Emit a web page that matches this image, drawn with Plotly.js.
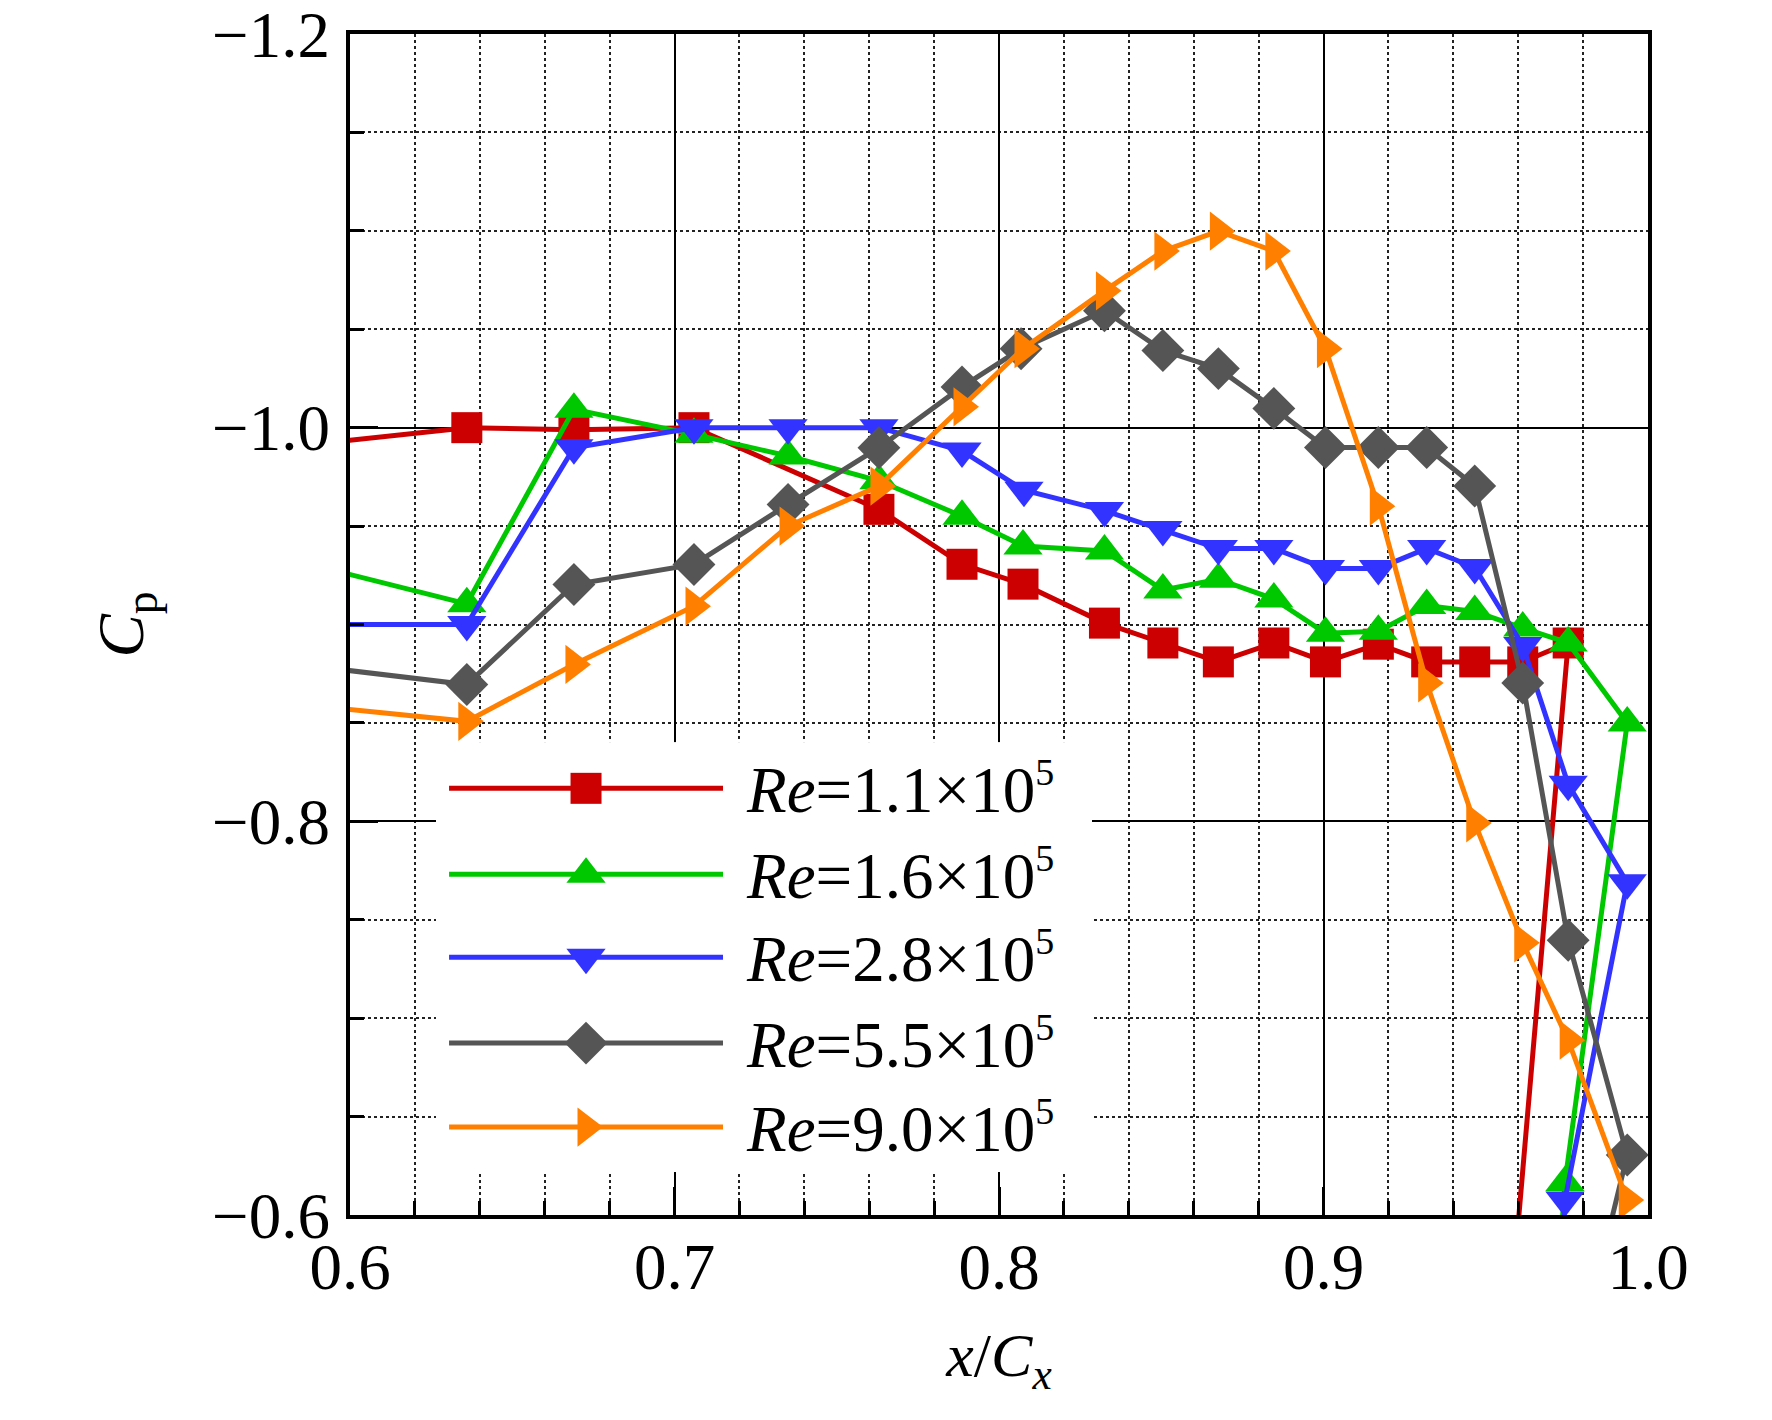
<!DOCTYPE html>
<html>
<head>
<meta charset="utf-8">
<script src="https://cdn.plot.ly/plotly-3.0.1.min.js"></script>
<style>
  body { margin: 0; background: #fff; }
  #chart { width: 1772px; height: 1420px; }
</style>
</head>
<body>
<div id="chart"></div>
<script>
// pressure taps along the surface (first point lies left of the window, the
// last ones wrap round the trailing edge below Cp = -0.6)
const xRe11 = [0.58, 0.636, 0.669, 0.706, 0.763, 0.7886, 0.8074, 0.8325, 0.8505, 0.8676, 0.8847, 0.9006, 0.9169, 0.9318, 0.9466, 0.9614, 0.9754, 0.955];
const cpRe11 = [-0.990, -1.0, -0.999, -1.0, -0.9585, -0.9306, -0.9205, -0.9007, -0.8906, -0.881, -0.8906, -0.881, -0.89, -0.881, -0.881, -0.881, -0.8906, -0.50];

const xRe16 = [0.58, 0.636, 0.669, 0.706, 0.735, 0.763, 0.7886, 0.8074, 0.8325, 0.8505, 0.8676, 0.8847, 0.9006, 0.9169, 0.9318, 0.9466, 0.9614, 0.9754, 0.9936, 0.9744, 0.9695];
const cpRe16 = [-0.9337, -0.9105, -1.0093, -0.9966, -0.9856, -0.973, -0.955, -0.9399, -0.9374, -0.9175, -0.923, -0.913, -0.8956, -0.8966, -0.9096, -0.9066, -0.8982, -0.8906, -0.85, -0.6165, -0.50];

const xRe28 = [0.58, 0.636, 0.669, 0.706, 0.735, 0.763, 0.7886, 0.8077, 0.8325, 0.8505, 0.8676, 0.8847, 0.9006, 0.9169, 0.9318, 0.9466, 0.9614, 0.9754, 0.9936, 0.9744, 0.971];
const cpRe28 = [-0.90, -0.90, -0.9898, -1.0, -1.0, -1.0, -0.9882, -0.9682, -0.9579, -0.9483, -0.9386, -0.9386, -0.9285, -0.9285, -0.9386, -0.929, -0.8893, -0.8188, -0.7688, -0.6076, -0.50];

const xRe55 = [0.58, 0.636, 0.669, 0.706, 0.735, 0.763, 0.7886, 0.8068, 0.8325, 0.8505, 0.8676, 0.8847, 0.9006, 0.9169, 0.9318, 0.9466, 0.9614, 0.9754, 0.9936, 0.9744];
const cpRe55 = [-0.8805, -0.8695, -0.9203, -0.9305, -0.961, -0.9898, -1.0207, -1.0401, -1.0594, -1.0392, -1.03, -1.0098, -0.9899, -0.9899, -0.9899, -0.9704, -0.8703, -0.7396, -0.6305, -0.50];

const xRe90 = [0.58, 0.636, 0.669, 0.706, 0.735, 0.763, 0.7886, 0.8074, 0.8325, 0.8505, 0.8676, 0.8847, 0.9006, 0.9169, 0.9318, 0.9466, 0.9614, 0.9754, 0.9936];
const cpRe90 = [-0.8601, -0.8508, -0.8797, -0.9093, -0.95, -0.9703, -1.0106, -1.0401, -1.0695, -1.0897, -1.0998, -1.0897, -1.0401, -0.9601, -0.8703, -0.7992, -0.7383, -0.6888, -0.6076];

const reLabels = ["1.1", "1.6", "2.8", "5.5", "9.0"];
const xTickVals = [0.6, 0.7, 0.8, 0.9, 1.0];
const yTickVals = [-1.2, -1.0, -0.8, -0.6];
const xRange = [0.6, 1.0];
const yRange = [-0.6, -1.2];

const FONT = "'Liberation Serif', 'Times New Roman', serif";
const styles = [
  { color: "#cc0000", symbol: "square", size: 31 },
  { color: "#00c800", symbol: "triangle-up", size: 34 },
  { color: "#3333ff", symbol: "triangle-down", size: 34 },
  { color: "#555555", symbol: "diamond", size: 33 },
  { color: "#ff8000", symbol: "triangle-right", size: 34 },
];
const series = [[xRe11, cpRe11], [xRe16, cpRe16], [xRe28, cpRe28], [xRe55, cpRe55], [xRe90, cpRe90]];

let traces = series.map((s, i) => ({
  x: s[0],
  y: s[1],
  type: "scatter",
  mode: "lines+markers",
  line: { color: styles[i].color, width: 5 },
  marker: { color: styles[i].color, symbol: styles[i].symbol, size: styles[i].size, opacity: 1 },
  showlegend: false,
  hoverinfo: "skip",
}));

// hand-made legend on its own little subplot (pixel-like units)
const legendRows = [46, 132, 215, 301, 385];
reLabels.forEach((lab, i) => {
  traces.push({
    x: [13, 287],
    y: [legendRows[i], legendRows[i]],
    xaxis: "x2",
    yaxis: "y2",
    type: "scatter",
    mode: "lines",
    line: { color: styles[i].color, width: 5 },
    showlegend: false,
    hoverinfo: "skip",
  });
  traces.push({
    x: [150],
    y: [legendRows[i]],
    xaxis: "x2",
    yaxis: "y2",
    type: "scatter",
    mode: "markers",
    marker: { color: styles[i].color, symbol: styles[i].symbol, size: styles[i].size, opacity: 1 },
    showlegend: false,
    hoverinfo: "skip",
  });
});

// legend box as fractions of the plot area
const legendBox = { x0: 0.0663, x1: 0.5716, y0: 0.0364, y1: 0.4002 };
const fx = (f) => xRange[0] + f * (xRange[1] - xRange[0]);
const fy = (f) => yRange[0] + f * (yRange[1] - yRange[0]);

const annotations = reLabels.map((lab, i) => ({
  xref: "x2",
  yref: "y2",
  x: 308,
  y: legendRows[i],
  xanchor: "left",
  yanchor: "middle",
  showarrow: false,
  text: "<i>Re</i>=" + lab + "×10<sup><span style=\"font-size:38px\">5</span></sup>",
  font: { family: FONT, size: 65, color: "#000" },
}));

const axisCommon = {
  showline: true,
  linecolor: "#000",
  linewidth: 4,
  mirror: true,
  ticks: "inside",
  ticklen: 28,
  tickwidth: 3,
  tickcolor: "#000",
  showgrid: true,
  gridcolor: "#000",
  gridwidth: 1.5,
  zeroline: false,
  tickformat: ".1f",
  ticklabeloverflow: "allow",
  tickfont: { family: FONT, size: 65, color: "#000" },
};

const layout = {
  width: 1772,
  height: 1420,
  margin: { l: 350, r: 124, t: 34, b: 205 },
  paper_bgcolor: "#fff",
  plot_bgcolor: "#fff",
  font: { family: FONT, color: "#000" },
  xaxis: Object.assign({}, axisCommon, {
    range: xRange,
    tickmode: "array",
    tickvals: xTickVals,
    ticklabelstandoff: -8,
    minor: { dtick: 0.02, tick0: 0.6, ticks: "inside", ticklen: 14, tickwidth: 3, tickcolor: "#000",
             showgrid: true, gridcolor: "#222", gridwidth: 1.5, griddash: "dot" },
    title: { text: "<i>x</i>/<i>C</i><sub><i>x</i></sub>", font: { family: FONT, size: 62 }, standoff: 32 },
  }),
  yaxis: Object.assign({}, axisCommon, {
    range: yRange,
    tickmode: "array",
    tickvals: yTickVals,
    ticklabelstandoff: 3,
    minor: { dtick: 0.05, tick0: -1.2, ticks: "inside", ticklen: 14, tickwidth: 3, tickcolor: "#000",
             showgrid: true, gridcolor: "#222", gridwidth: 1.5, griddash: "dot" },
    title: { text: "<i>C</i><sub>p</sub>", font: { family: FONT, size: 65 }, standoff: 48 },
  }),
  xaxis2: { domain: [legendBox.x0, legendBox.x1], range: [0, 656], visible: false, anchor: "y2", fixedrange: true },
  yaxis2: { domain: [legendBox.y0, legendBox.y1], range: [430, 0], visible: false, anchor: "x2", fixedrange: true },
  shapes: [{
    type: "rect",
    xref: "x",
    yref: "y",
    x0: fx(legendBox.x0), x1: fx(legendBox.x1), y0: fy(legendBox.y0), y1: fy(legendBox.y1),
    fillcolor: "#fff",
    line: { width: 0 },
    layer: "between",
  }],
  annotations: annotations,
  showlegend: false,
};

Plotly.newPlot("chart", traces, layout, { displayModeBar: false });
</script>
</body>
</html>
